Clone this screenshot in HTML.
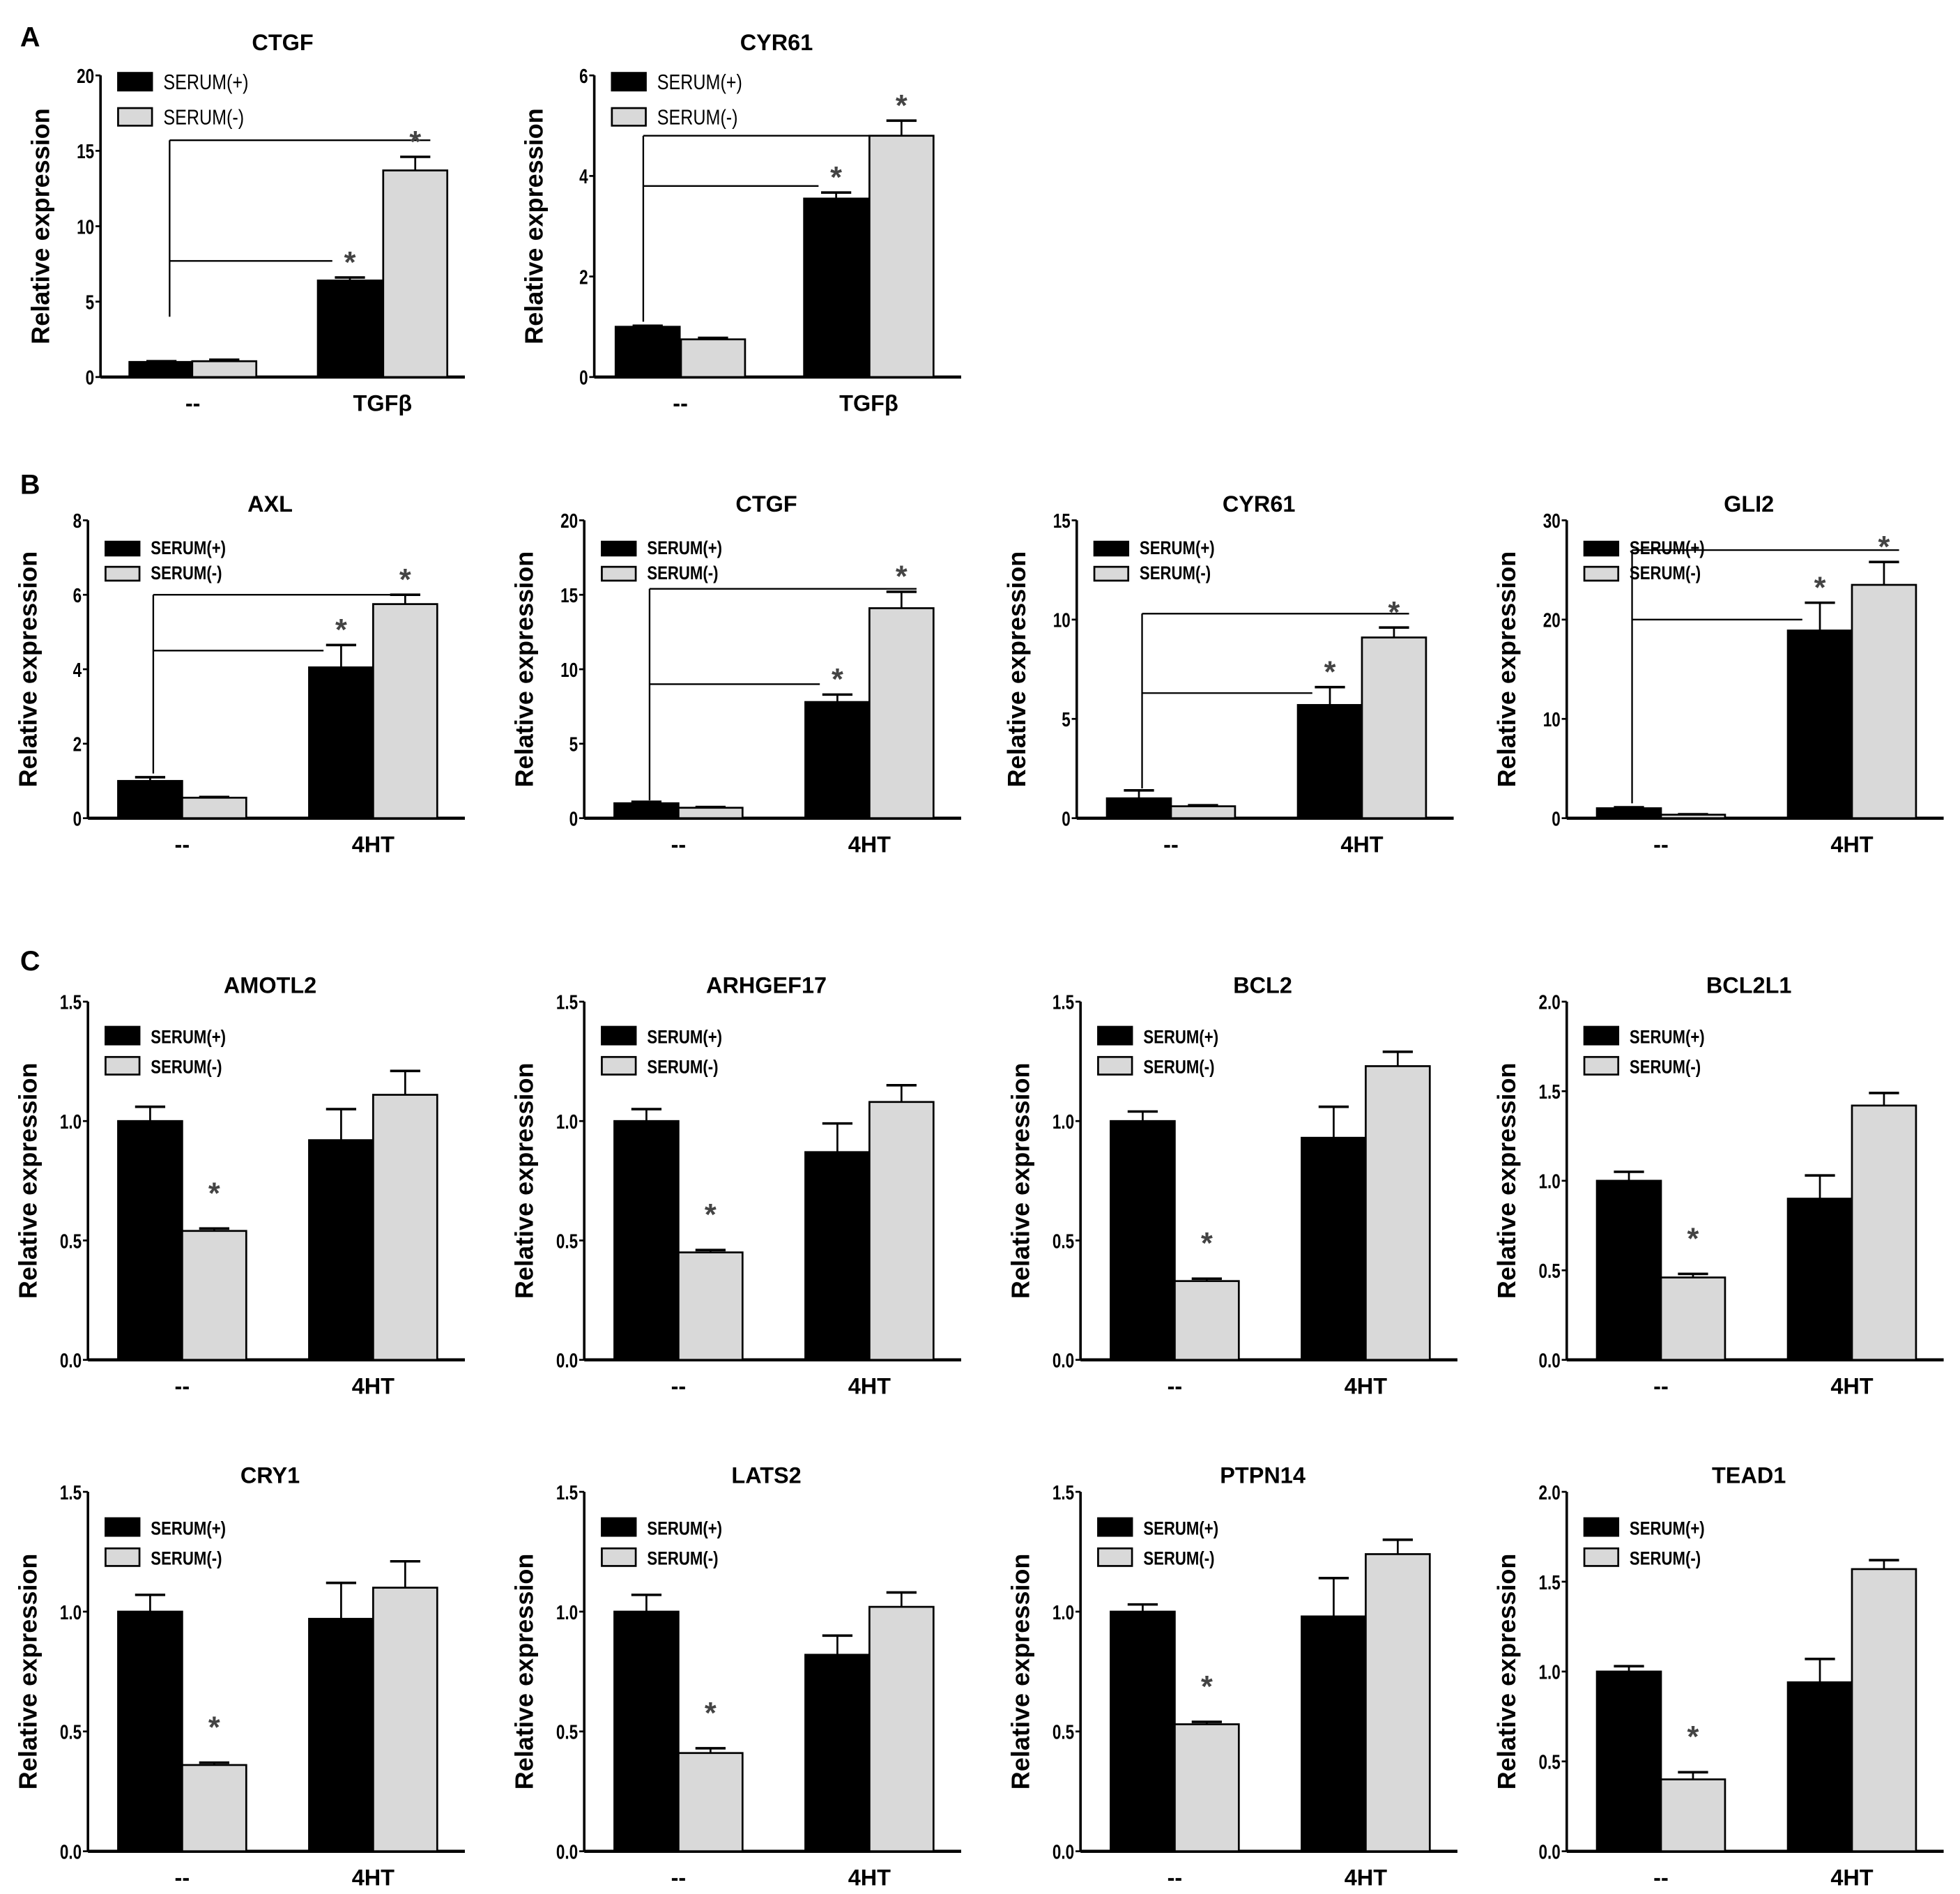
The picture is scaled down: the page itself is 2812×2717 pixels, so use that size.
<!DOCTYPE html>
<html><head><meta charset="utf-8"><style>
html,body{margin:0;padding:0;background:#fff}
svg{display:block}
text{font-family:"Liberation Sans",sans-serif}
</style></head><body>
<svg id="fig" width="2812" height="2717" viewBox="0 0 1560 1507" preserveAspectRatio="none" xmlns="http://www.w3.org/2000/svg">
<text x="16" y="37" font-size="22" font-weight="bold">A</text>
<text x="16" y="393" font-size="22" font-weight="bold">B</text>
<text x="16" y="772" font-size="22" font-weight="bold">C</text>
</svg>
<script>
// ---- data ----
const seriesNames = ["SERUM(+)", "SERUM(-)"];
const catsA = ["--", "TGFβ"];
const cats4 = ["--", "4HT"];
// values: [ctrl+, ctrl-, treat+, treat-]
const aCtgfVals = [1.0, 1.05, 6.4, 13.7];   const aCtgfErr = [0.05, 0.1, 0.2, 0.9];
const aCyrVals = [1.0, 0.75, 3.55, 4.8];     const aCyrErr = [0.02, 0.03, 0.12, 0.3];
const bAxlVals = [1.0, 0.55, 4.05, 5.75];    const bAxlErr = [0.1, 0.02, 0.6, 0.25];
const bCtgfVals = [1.0, 0.7, 7.8, 14.1];     const bCtgfErr = [0.1, 0.05, 0.5, 1.1];
const bCyrVals = [1.0, 0.6, 5.7, 9.1];       const bCyrErr = [0.4, 0.05, 0.9, 0.5];
const bGliVals = [1.0, 0.35, 18.9, 23.5];    const bGliErr = [0.1, 0.05, 2.8, 2.3];
const cAmotl2 = [1.0, 0.54, 0.92, 1.11];   const cAmotl2Err = [0.06, 0.01, 0.13, 0.10];
const cArhgef17 = [1.0, 0.45, 0.87, 1.08]; const cArhgef17Err = [0.05, 0.01, 0.12, 0.07];
const cBcl2 = [1.0, 0.33, 0.93, 1.23];     const cBcl2Err = [0.04, 0.01, 0.13, 0.06];
const cBcl2l1 = [1.0, 0.46, 0.90, 1.42];   const cBcl2l1Err = [0.05, 0.02, 0.13, 0.07];
const cCry1 = [1.0, 0.36, 0.97, 1.10];     const cCry1Err = [0.07, 0.01, 0.15, 0.11];
const cLats2 = [1.0, 0.41, 0.82, 1.02];    const cLats2Err = [0.07, 0.02, 0.08, 0.06];
const cPtpn14 = [1.0, 0.53, 0.98, 1.24];   const cPtpn14Err = [0.03, 0.01, 0.16, 0.06];
const cTead1 = [1.0, 0.40, 0.94, 1.57];    const cTead1Err = [0.03, 0.04, 0.13, 0.05];
const ticks20 = [0,5,10,15,20], ticks6=[0,2,4,6], ticks8=[0,2,4,6,8], ticks15=[0,5,10,15], ticks30=[0,10,20,30];
const ticks15d = [0,0.5,1.0,1.5], ticks20d=[0,0.5,1.0,1.5,2.0];
// significance brackets: [vertical bottom value, long line value, short line value]
const aCtgfSig = [4.0, 15.7, 7.7];
const aCyrSig = [1.1, 4.8, 3.8];
const bAxlSig = [1.2, 6.0, 4.5];
const bCtgfSig = [1.2, 15.4, 9.0];
const bCyrSig = [1.5, 10.3, 6.3];
const bGliSig = [1.5, 27.0, 20.0];

const NS = "http://www.w3.org/2000/svg";
const svg = document.getElementById('fig');
function el(tag, attrs, parent, txt){const e=document.createElementNS(NS,tag);for(const k in attrs)e.setAttribute(k,attrs[k]);if(txt!=null)e.textContent=txt;(parent||svg).appendChild(e);return e;}

function chart(o){
  const g = el('g',{});
  
  
  const max = o.ticks[o.ticks.length-1];
  const y = v => o.bot - (o.bot - o.top) * v / max;
  const ox = o.ox;
  const offs = o.offs || [24, 75, 176, 227];
  const bw = o.bw || 51;
  const axLen = o.axLen || 300;
  const ya = el('line',{x1:ox,y1:o.top,x2:ox,y2:o.bot,stroke:'#000','stroke-width':2},g);
  
  
  o.ticks.forEach(t=>{
    el('line',{x1:ox-4,y1:y(t),x2:ox,y2:y(t),stroke:'#000','stroke-width':1.5},g);
    const tl = el('text',{x:ox-5,y:y(t)+6,'font-size':16,'text-anchor':'end','font-weight':'bold',transform:`translate(${ox-5},0) scale(0.78,1) translate(${-(ox-5)},0)`},g,o.dec?t.toFixed(1):String(t));
    
    
  });
  const xa = el('line',{x1:ox,y1:o.bot,x2:ox+axLen,y2:o.bot,stroke:'#000','stroke-width':2.5},g);
  
  
  o.vals.forEach((v,i)=>{
    const x = ox + offs[i];
    const top = y(v), et = y(v + o.err[i]);
    const cx = x + bw/2;
    el('line',{x1:cx,y1:top,x2:cx,y2:et,stroke:'#000','stroke-width':1.5},g);
    el('line',{x1:cx-12,y1:et,x2:cx+12,y2:et,stroke:'#000','stroke-width':2},g);
    const r = el('rect',{x:x,y:top,width:bw,height:o.bot-top,fill:i%2?'#d9d9d9':'#000',stroke:'#000','stroke-width':1.5},g);
    
    
  });
  const c0 = ox + (offs[0]+offs[1]+bw)/2, c1 = ox + (offs[2]+offs[3]+bw)/2;
  o.cats.forEach((c,i)=>{
    const t = el('text',{x:i?c1:c0,y:o.bot+27,'font-size':18,'font-weight':'bold','text-anchor':'middle'},g,c);
    
    
  });
  const ti = el('text',{x:ox+145,y:o.titleY || (o.top-7),'font-size':18,'font-weight':'bold','text-anchor':'middle'},g,o.title);
  
  
  const yl = el('text',{x:0,y:0,'font-size':20,'font-weight':'bold','text-anchor':'middle',transform:`translate(${ox-41},${(o.top+o.bot)/2}) rotate(-90)`},g,'Relative expression');
  
  
  seriesNames.forEach((s,i)=>{
    const ly = o.legY + i*o.legGap;
    const lr = el('rect',{x:ox+14,y:ly,width:27,height:o.legH,fill:i?'#d9d9d9':'#000',stroke:'#000','stroke-width':1.5},g);
    
    
    const lt = el('text',{x:ox+50,y:ly+o.legH-1,'font-size':o.legBold?15:17,'font-weight':o.legBold?'bold':'normal',transform:`translate(${ox+50},0) scale(0.82,1) translate(${-(ox+50)},0)`},g,s);
    
    
  });
  const star = (x,yy)=>{const s=el('text',{x:x,y:yy,'font-size':24,'font-weight':'bold','fill':'#444','text-anchor':'middle'},g,'*');
    
    };
  if(o.sig){
    const vx = ox + (o.vxOff || 52);
    const s = o.sig;
    el('line',{x1:vx,y1:y(s[0]),x2:vx,y2:y(s[1]),stroke:'#000','stroke-width':1.3},g);
    el('line',{x1:vx,y1:y(s[1]),x2:ox+offs[3]+bw/2+12,y2:y(s[1]),stroke:'#000','stroke-width':1.3},g);
    el('line',{x1:vx,y1:y(s[2]),x2:ox+offs[2]+bw/2-14,y2:y(s[2]),stroke:'#000','stroke-width':1.3},g);
    star(ox+offs[2]+bw/2, y(o.vals[2]+o.err[2])-4);
    star(ox+offs[3]+bw/2, y(o.vals[3]+o.err[3])-4);
  } else {
    star(ox+offs[1]+bw/2, y(o.vals[1]+o.err[1])-20);
  }
}
// Panel A
const aRow = {top:60, bot:300, legY:58, legGap:28, legH:14, legBold:false, titleY:40};
chart({...aRow, name:'a-ctgf', ox:80, title:'CTGF', cats:catsA, ticks:ticks20, vals:aCtgfVals, err:aCtgfErr, sig:aCtgfSig, offs:[23,73,173,225], bw:51, axLen:290, vxOff:55});
chart({...aRow, name:'a-cyr61', ox:473, title:'CYR61', cats:catsA, ticks:ticks6, vals:aCyrVals, err:aCyrErr, sig:aCyrSig, offs:[17,69,167,219], bw:51, axLen:292, vxOff:39});
// Panel B
const bRow = {top:414, bot:651, legY:431, legGap:20, legH:11, legBold:true};
chart({...bRow, name:'b-axl', ox:70, title:'AXL', cats:cats4, ticks:ticks8, vals:bAxlVals, err:bAxlErr, sig:bAxlSig});
chart({...bRow, name:'b-ctgf', ox:465, title:'CTGF', cats:cats4, ticks:ticks20, vals:bCtgfVals, err:bCtgfErr, sig:bCtgfSig});
chart({...bRow, name:'b-cyr61', ox:857, title:'CYR61', cats:cats4, ticks:ticks15, vals:bCyrVals, err:bCyrErr, sig:bCyrSig});
chart({...bRow, name:'b-gli2', ox:1247, title:'GLI2', cats:cats4, ticks:ticks30, vals:bGliVals, err:bGliErr, sig:bGliSig});
// Panel C
const c1 = {top:797, bot:1082, legY:817, legGap:24, legH:14, legBold:true, dec:true, cats:cats4};
const c2 = {top:1187, bot:1473, legY:1208, legGap:24, legH:14, legBold:true, dec:true, cats:cats4};
chart({...c1, name:'c-amotl2', ox:70, title:'AMOTL2', ticks:ticks15d, vals:cAmotl2, err:cAmotl2Err});
chart({...c1, name:'c-arhgef17', ox:465, title:'ARHGEF17', ticks:ticks15d, vals:cArhgef17, err:cArhgef17Err});
chart({...c1, name:'c-bcl2', ox:860, title:'BCL2', ticks:ticks15d, vals:cBcl2, err:cBcl2Err});
chart({...c1, name:'c-bcl2l1', ox:1247, title:'BCL2L1', ticks:ticks20d, vals:cBcl2l1, err:cBcl2l1Err});
chart({...c2, name:'c-cry1', ox:70, title:'CRY1', ticks:ticks15d, vals:cCry1, err:cCry1Err});
chart({...c2, name:'c-lats2', ox:465, title:'LATS2', ticks:ticks15d, vals:cLats2, err:cLats2Err});
chart({...c2, name:'c-ptpn14', ox:860, title:'PTPN14', ticks:ticks15d, vals:cPtpn14, err:cPtpn14Err});
chart({...c2, name:'c-tead1', ox:1247, title:'TEAD1', ticks:ticks20d, vals:cTead1, err:cTead1Err});
</script>
</body></html>
